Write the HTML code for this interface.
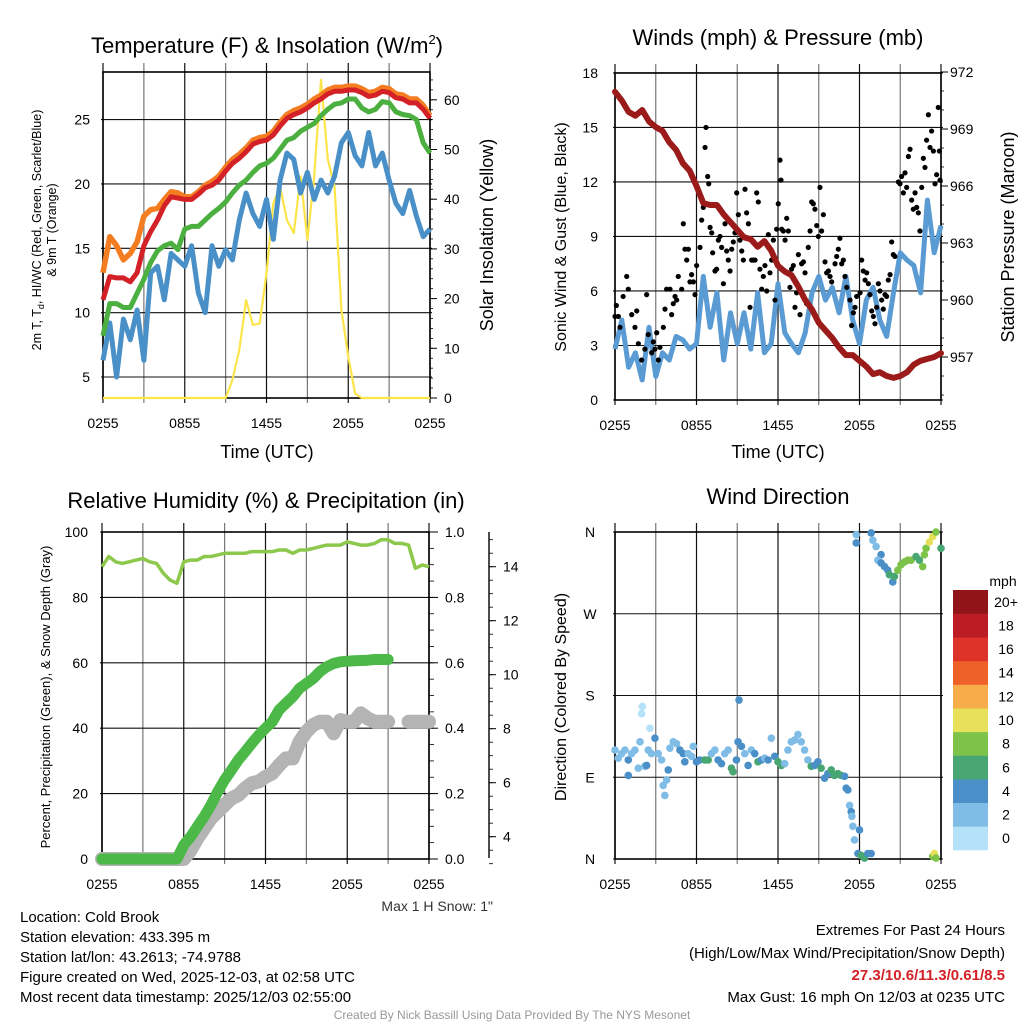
<!DOCTYPE html>
<html><head><meta charset="utf-8">
<style>
body{margin:0;background:#fff;}
svg{display:block;font-family:"Liberation Sans",Arial,sans-serif;}
</style></head>
<body>
<svg id="c" width="1024" height="1024" viewBox="0 0 1024 1024" xmlns="http://www.w3.org/2000/svg">
<rect width="1024" height="1024" fill="#fff"/>
<text x="267" y="53" font-size="22" text-anchor="middle">Temperature (F) &amp; Insolation (W/m<tspan font-size="13" dy="-9">2</tspan><tspan dy="9">)</tspan></text>
<text x="778" y="45" font-size="22" text-anchor="middle">Winds (mph) &amp; Pressure (mb)</text>
<text x="266" y="508" font-size="22" text-anchor="middle">Relative Humidity (%) &amp; Precipitation (in)</text>
<text x="778" y="504" font-size="22" text-anchor="middle">Wind Direction</text>
<text x="267" y="458" font-size="18" text-anchor="middle">Time (UTC)</text>
<text x="778" y="458" font-size="18" text-anchor="middle">Time (UTC)</text>
<text transform="translate(41,230) rotate(-90)" font-size="12.5" text-anchor="middle">2m T, T<tspan font-size="9" dy="3">d</tspan><tspan dy="-3">, HI/WC (Red, Green, Scarlet/Blue)</tspan></text>
<text transform="translate(56,230) rotate(-90)" font-size="12.5" text-anchor="middle">&amp; 9m T (Orange)</text>
<text transform="translate(493,235) rotate(-90)" font-size="18" text-anchor="middle">Solar Insolation (Yellow)</text>
<text transform="translate(566,237) rotate(-90)" font-size="16" text-anchor="middle">Sonic Wind &amp; Gust (Blue, Black)</text>
<text transform="translate(1014,237) rotate(-90)" font-size="18" text-anchor="middle">Station Pressure (Maroon)</text>
<text transform="translate(50,697) rotate(-90)" font-size="13" text-anchor="middle">Percent, Precipitation (Green), &amp; Snow Depth (Gray)</text>
<text transform="translate(566,697) rotate(-90)" font-size="16" text-anchor="middle">Direction (Colored By Speed)</text>
<text x="493" y="911" font-size="14" text-anchor="end" fill="#333">Max 1 H Snow: 1"</text>
<text x="1003" y="586" font-size="14" text-anchor="middle">mph</text>
<g font-size="15">
<text x="20" y="922">Location: Cold Brook</text>
<text x="20" y="942">Station elevation: 433.395 m</text>
<text x="20" y="962">Station lat/lon: 43.2613; -74.9788</text>
<text x="20" y="982">Figure created on Wed, 2025-12-03, at 02:58 UTC</text>
<text x="20" y="1002">Most recent data timestamp: 2025/12/03 02:55:00</text>
</g>
<g font-size="15" text-anchor="end">
<text x="1005" y="935">Extremes For Past 24 Hours</text>
<text x="1005" y="958">(High/Low/Max Wind/Precipitation/Snow Depth)</text>
<text x="1005" y="980" fill="#d42027" font-weight="bold">27.3/10.6/11.3/0.61/8.5</text>
<text x="1005" y="1002">Max Gust: 16 mph On 12/03 at 0235 UTC</text>
</g>
<text x="512" y="1019" font-size="12" fill="#999" text-anchor="middle">Created By Nick Bassill Using Data Provided By The NYS Mesonet</text>
<g id="layer"></g>
</svg>
<script>
const timeLabels = ["0255","0855","1455","2055","0255"];
const tempRed = [11.0,12.8,12.7,12.7,12.4,13.1,15.2,16.3,17.2,18.3,19.0,18.9,18.8,18.8,19.2,19.7,19.9,20.3,21.0,21.6,22.0,22.5,23.1,23.3,23.4,23.8,24.5,25.1,25.4,25.6,25.9,26.3,26.6,27.0,27.2,27.2,27.3,27.3,27.1,26.8,26.9,27.2,27.1,26.7,26.6,26.3,26.3,25.8,25.1];
const tempOrange = [13.1,15.9,15.2,14.1,14.6,15.5,17.5,18.0,18.1,18.8,19.4,19.3,19.0,19.0,19.4,19.9,20.2,20.6,21.3,21.9,22.3,22.8,23.4,23.6,23.7,24.1,24.8,25.4,25.7,25.9,26.2,26.6,26.9,27.3,27.5,27.5,27.6,27.6,27.4,27.1,27.2,27.5,27.4,27.0,26.9,26.6,26.6,26.1,25.3];
const tempGreen = [8.2,10.7,10.7,10.4,10.4,11.5,12.6,13.9,14.8,15.2,15.4,14.9,16.5,16.7,16.7,17.2,17.7,18.1,18.6,19.3,19.9,20.3,20.9,21.4,21.6,22.0,22.7,23.4,23.6,24.1,24.4,24.7,25.3,25.8,26.2,26.3,26.6,26.6,25.9,25.6,25.8,26.4,26.3,25.6,25.4,25.3,25.0,23.2,22.4];
const tempBlue = [6.3,9.2,5.0,9.5,7.9,10.2,6.3,13.1,13.6,11.0,14.6,14.1,13.6,15.2,11.5,10.0,15.2,13.6,14.9,14.1,17.2,19.3,17.7,16.7,18.8,15.7,20.3,22.4,21.9,19.3,20.9,18.8,20.3,19.3,20.6,23.2,24.0,22.2,21.4,24.0,21.4,22.4,20.3,18.5,17.7,19.5,17.5,15.9,16.5];
const insolation = [0,0,0,0,0,0,0,0,0,0,0,0,0,0,0,0,0,0,0,3.6,9.7,19.7,14.7,15.0,25.1,39.2,42.6,35.8,33.2,44.6,31.8,44.6,64.0,48.0,42.5,17.7,8.3,0.9,0,0,0,0,0,0,0,0,0,0,0];
const windSpeed = [2.8,4.4,1.8,2.6,1.1,4.0,1.3,2.6,2.2,3.5,3.3,2.8,3.1,6.8,4.0,5.9,2.2,4.8,3.1,4.8,2.8,5.9,2.6,3.1,6.4,3.7,3.1,2.6,3.7,5.9,6.8,5.5,6.2,4.8,6.8,4.4,3.1,5.5,6.2,4.4,3.5,5.9,8.1,7.7,7.4,5.9,11.0,8.1,9.6];
const pressure = [970.96,970.5,969.9,969.7,970.0,969.4,969.1,968.9,968.3,967.9,967.2,966.8,966.0,965.1,965.0,965.0,964.5,964.1,963.7,963.3,963.2,962.8,963.1,962.6,961.8,961.5,961.3,960.7,960.0,959.5,958.8,958.4,958.0,957.5,957.1,957.1,956.8,956.5,956.1,956.2,956.0,955.9,956.0,956.2,956.6,956.8,956.9,957.0,957.2];
const gustHour = [0,0.1,0.25,0.37,0.6,0.86,0.98,1.23,1.47,1.6,1.72,1.96,2.2,2.33,2.45,2.7,2.82,2.94,3.07,3.19,3.31,3.56,3.68,3.8,4.05,4.17,4.29,4.42,4.54,4.66,4.91,5.03,5.15,5.28,5.4,5.52,5.64,5.77,5.89,6.01,6.26,6.38,6.5,6.63,6.7,6.82,6.9,7.0,7.12,7.19,7.36,7.48,7.61,7.73,7.85,7.98,8.1,8.22,8.34,8.47,8.59,8.71,8.83,8.96,9.08,9.2,9.33,9.45,9.57,9.69,9.82,9.94,10.06,10.18,10.31,10.43,10.55,10.67,10.8,10.92,11.04,11.17,11.29,11.41,11.53,11.66,11.78,11.9,12.02,12.15,12.22,12.27,12.39,12.52,12.64,12.76,12.88,13.0,13.13,13.25,13.37,13.5,13.62,13.74,13.87,13.99,14.11,14.23,14.36,14.48,14.6,14.72,14.85,14.97,15.09,15.21,15.34,15.46,15.58,15.71,15.83,15.95,16.2,16.32,16.44,16.56,16.69,16.81,16.93,17.06,17.3,17.42,17.55,17.67,17.79,18.04,18.16,18.28,18.41,18.53,18.65,18.77,18.9,19.02,19.14,19.26,19.39,19.51,19.63,19.75,19.88,20.0,20.12,20.25,20.37,20.49,20.61,20.86,20.98,21.1,21.23,21.35,21.47,21.6,21.72,21.84,21.96,22.09,22.21,22.33,22.45,22.58,22.7,22.82,22.94,23.07,23.19,23.31,23.44,23.56,23.68,23.8,23.88,23.93];
const gustSpeed = [4.6,5.2,4.6,4.0,5.7,6.8,6.1,4.7,4.0,4.9,3.1,2.2,2.8,5.8,3.6,2.6,3.2,2.8,3.7,2.2,2.9,4.0,5.0,6.1,6.1,4.7,5.3,5.7,5.5,6.8,6.1,9.7,8.3,7.7,8.3,6.5,6.9,6.5,5.8,7.4,8.4,9.9,10.6,13.9,15.0,12.3,11.9,9.5,9.2,8.1,7.1,7.2,8.8,9.0,8.4,6.4,9.7,8.2,7.7,7.1,8.3,8.7,9.2,11.4,10.2,8.8,8.2,7.7,11.6,10.3,9.7,5.1,7.7,7.7,7.7,11.4,10.9,7.2,6.1,6.8,7.4,6.0,9.1,7.0,7.7,8.8,5.5,9.4,10.8,13.2,12.1,9.4,9.3,8.8,10.0,9.3,6.2,7.2,7.4,5.1,5.9,8.0,4.7,7.5,7.6,7.0,5.3,8.4,9.3,10.9,10.8,10.5,9.6,9.0,11.7,9.3,10.2,7.6,7.0,7.1,6.8,6.5,7.5,7.9,8.3,8.9,7.5,7.7,6.8,6.2,5.5,4.1,4.8,5.1,5.7,5.9,7.7,7.1,6.6,7.0,6.4,5.8,4.9,4.6,4.2,5.1,6.4,6.0,5.5,5.0,5.8,5.7,6.6,6.9,8.7,8.0,7.9,12.0,11.9,12.3,11.4,12.5,11.7,13.4,13.8,11.0,10.5,11.4,10.6,10.3,9.3,11.7,13.3,12.8,14.3,15.7,13.9,14.8,13.7,11.9,12.4,16.1,13.7,12.1];
const dirHour = [
 0,0.24,0.49,0.73,0.98,0.98,1.22,1.47,1.71,1.84,
 1.96,2.01,2.2,2.33,2.45,2.57,2.69,2.94,3.18,3.43,
 3.55,3.67,3.8,3.92,4.04,4.29,4.53,4.78,5.02,5.14,
 5.39,5.63,5.76,6.0,6.24,6.61,6.86,7.1,7.35,7.59,
 7.84,8.08,8.33,8.57,8.69,8.94,9.06,9.13,9.31,9.55,
 9.8,10.04,10.29,10.53,10.78,11.02,11.27,11.51,11.76,12.0,
 12.25,12.49,12.73,12.98,13.22,13.47,13.71,13.96,14.2,14.45,
 14.69,14.94,15.18,15.43,15.67,15.92,16.16,16.41,16.65,16.9,
 17.02,17.14,17.27,17.39,17.44,17.51,17.63,18.0,17.88,18.12,
 18.37,18.61,18.86,23.39,23.51,23.63,17.76,17.76,18.86,18.98,
 19.22,19.59,19.35,19.59,19.84,20.08,20.2,20.45,20.57,20.82,
 21.06,21.31,21.55,21.8,22.16,22.41,22.65,22.78,22.9,23.14,
 23.39,23.63,24.0];
const dirDeg = [
 120,111,116,120,109,92,116,120,100,129,
 160,168,102,103,120,144,116,133,116,109,
 81,70,87,98,122,129,127,120,116,107,
 116,113,124,107,109,109,109,116,120,109,
 105,116,120,100,96,109,129,175,124,116,
 103,120,116,107,109,111,109,133,113,107,
 103,105,120,129,131,137,129,120,109,102,
 103,107,100,89,94,98,92,94,92,91,
 78,76,59,52,47,36,21,32,6,4,
 1,6,6,3,6,1,357,348,359,351,
 344,335,329,326,322,318,313,305,311,318,
 324,327,329,329,333,329,322,335,342,349,
 355,360,342];
const dirSpeed = [
 3,3,3,3,5,5,3,3,3,3,
 1,1,3,5,3,1,3,5,3,3,
 3,3,3,5,3,3,3,5,5,5,
 3,3,3,5,5,7,7,3,3,5,
 5,3,3,7,7,5,5,5,5,3,
 5,3,5,7,5,3,5,3,5,7,
 7,3,3,3,3,3,3,3,3,7,
 5,5,7,5,5,7,7,7,7,5,
 5,5,3,5,3,3,3,5,5,7,
 7,5,5,9,11,9,3,5,5,3,
 3,5,3,5,5,5,7,5,7,9,
 9,9,9,9,7,7,9,9,9,11,
 11,9,7];
const rh = [89.4,92.5,90.9,90.4,90.9,91.4,91.9,90.9,90.4,87.4,85.3,84.3,90.9,91.4,91.4,92.5,92.5,93.0,93.5,93.5,93.5,93.5,94.0,94.0,94.0,94.0,94.5,94.5,93.5,94.5,94.5,95.0,95.5,96.0,96.0,96.0,97.0,96.5,96.0,96.0,96.5,97.6,97.6,96.5,96.5,96.0,88.9,89.9,89.4];
const precip = [0,0,0,0,0,0,0,0,0,0,0,0,0.043,0.068,0.099,0.13,0.165,0.206,0.242,0.272,0.303,0.328,0.354,0.379,0.40,0.42,0.456,0.476,0.496,0.522,0.537,0.552,0.573,0.588,0.598,0.603,0.605,0.606,0.607,0.608,0.61,0.61,0.61,null,null,null,null,null,null];
const snowDepth = [0,0,0,0,0,0,0,0,0,0,0,0,0,3.5,3.94,4.31,4.68,4.93,5.17,5.42,5.54,5.79,5.98,6.04,6.22,6.35,6.65,6.9,6.9,7.52,7.89,8.14,8.26,8.26,7.83,8.32,8.26,8.26,8.57,8.38,8.26,8.26,8.26,null,null,8.26,8.26,8.26,8.26];
const speedBins = ["0","2","4","6","8","10","12","14","16","18","20+"];
const speedColors = ["#b5e2f8","#7fbce6","#4a8fc7","#48a672","#7dc34a","#e6e05a","#f6ac48","#ee6129","#dd3328","#bc1c23","#911518"];

const NS="http://www.w3.org/2000/svg";
const layer=document.getElementById("layer");
function mk(tag,attrs,parent){const e=document.createElementNS(NS,tag);for(const k in attrs)e.setAttribute(k,attrs[k]);(parent||layer).appendChild(e);return e;}
function txt(x,y,s,size,anchor,parent){const t=mk("text",{x:x,y:y,"font-size":size,"text-anchor":anchor},parent);t.textContent=s;return t;}
function panel(L,R,T,B){return {L,R,T,B,x:h=>L+h/24*(R-L)};}
function linePath(p,vals,ys,clampLo,clampHi){let d="",pen=false;vals.forEach((v,i)=>{if(v===null){pen=false;return;}let y=ys(v);if(clampLo!==undefined)y=Math.min(Math.max(y,clampHi),clampLo);const x=p.x(i*0.5);d+=(pen?"L":"M")+x.toFixed(1)+","+y.toFixed(1);pen=true;});return d;}
function grid(p,ysList,name){const g=mk("g",{});
 for(let h=0;h<=24;h+=3){const x=p.x(h);mk("line",{x1:x,x2:x,y1:p.T-9,y2:p.B+5,stroke:(h%6==3)?"#777":"#111","stroke-width":1.2},g);}
 ysList.forEach(y=>mk("line",{x1:p.L-2,x2:p.R+2,y1:y,y2:y,stroke:"#111","stroke-width":1.1},g));
 mk("rect",{x:p.L,y:p.T,width:p.R-p.L,height:p.B-p.T,fill:"none",stroke:"#000","stroke-width":1.6},g);
 timeLabels.forEach((s,i)=>{txt(p.x(i*6),p.B+30,s,14,"middle",g);});
 return g;}

// Panel 1
const p1=panel(103,430,72,398);
const yT=v=>377-(v-5)*12.87, yI=v=>398-v*4.97;
const g1=grid(p1,[5,10,15,20,25].map(yT),"temperature-grid");
[5,10,15,20,25].forEach(v=>txt(90,yT(v)+5,String(v),14,"end",g1));
[0,10,20,30,40,50,60].forEach(v=>{txt(444,yI(v)+5,String(v),14,"start",g1);mk("line",{x1:430,x2:437,y1:yI(v),y2:yI(v),stroke:"#000"},g1);});
for(let v=0;v<=64;v+=2){mk("line",{x1:430,x2:433,y1:yI(v),y2:yI(v),stroke:"#000","stroke-width":0.8},g1);}
let e;
e=mk("path",{d:linePath(p1,insolation,yI),fill:"none",stroke:"#fce44a","stroke-width":2.2,"stroke-linejoin":"round"});

e=mk("path",{d:linePath(p1,tempBlue,yT),fill:"none",stroke:"#4a90c8","stroke-width":5,"stroke-linejoin":"round"});

e=mk("path",{d:linePath(p1,tempGreen,yT),fill:"none",stroke:"#4bb03f","stroke-width":5,"stroke-linejoin":"round"});

e=mk("path",{d:linePath(p1,tempOrange,yT),fill:"none",stroke:"#f47d22","stroke-width":5.5,"stroke-linejoin":"round"});

e=mk("path",{d:linePath(p1,tempRed,yT),fill:"none",stroke:"#d42027","stroke-width":5,"stroke-linejoin":"round"});


// Panel 2
const p2=panel(615,941,73,400);
const yW=v=>400-v*18.17, yP=v=>357-(v-957)*19;
const g2=grid(p2,[0,3,6,9,12,15,18].map(yW),"wind-grid");
[0,3,6,9,12,15,18].forEach(v=>txt(598,yW(v)+5,String(v),14,"end",g2));
[957,960,963,966,969,972].forEach(v=>{txt(950,yP(v)+5,String(v),14,"start",g2);mk("line",{x1:941,x2:948,y1:yP(v),y2:yP(v),stroke:"#000"},g2);});
for(let v=955;v<=972;v++){mk("line",{x1:941,x2:944,y1:yP(v),y2:yP(v),stroke:"#000","stroke-width":0.8},g2);}
e=mk("path",{d:linePath(p2,windSpeed,yW),fill:"none",stroke:"#5a9bd4","stroke-width":5,"stroke-linejoin":"round"});

const gg=mk("g",{});
gustHour.forEach((h,i)=>{const c=mk("circle",{cx:p2.x(h),cy:yW(gustSpeed[i]),r:2.6,fill:"#000"},gg);

});
e=mk("path",{d:linePath(p2,pressure,yP),fill:"none",stroke:"#9b1b1b","stroke-width":6,"stroke-linejoin":"round","stroke-linecap":"round"});


// Panel 3
const p3=panel(102,429,532,859);
const yR=v=>859-v*3.27, yPr=v=>859-v*327, yS=v=>836.7-(v-4)*27;
const g3=grid(p3,[0,20,40,60,80,100].map(yR),"humidity-grid");
[0,20,40,60,80,100].forEach(v=>txt(88,yR(v)+5,String(v),14,"end",g3));
[0,0.2,0.4,0.6,0.8,1.0].forEach(v=>{txt(445,yPr(v)+5,v.toFixed(1),14,"start",g3);mk("line",{x1:429,x2:438,y1:yPr(v),y2:yPr(v),stroke:"#000"},g3);});
for(let v=0;v<=1.0001;v+=0.05){mk("line",{x1:429,x2:434,y1:yPr(v),y2:yPr(v),stroke:"#000","stroke-width":0.8},g3);}
const gs=mk("g",{});
mk("line",{x1:489,x2:489,y1:532,y2:858,stroke:"#000","stroke-width":1.4},gs);
[4,6,8,10,12,14].forEach(v=>{mk("line",{x1:489,x2:496,y1:yS(v),y2:yS(v),stroke:"#000"},gs);txt(503,yS(v)+5,String(v),14,"start",gs);});
for(let v=3;v<=15;v+=0.5){mk("line",{x1:489,x2:493,y1:yS(v),y2:yS(v),stroke:"#000","stroke-width":0.8},gs);}
e=mk("path",{d:linePath(p3,snowDepth,yS,859,532),fill:"none",stroke:"#b4b4b4","stroke-width":14,"stroke-linejoin":"round","stroke-linecap":"round"});

e=mk("path",{d:linePath(p3,precip,yPr),fill:"none",stroke:"#4bb848","stroke-width":11,"stroke-linejoin":"round","stroke-linecap":"round"});

e=mk("path",{d:linePath(p3,rh,yR),fill:"none",stroke:"#8cc84b","stroke-width":3.5,"stroke-linejoin":"round"});


// Panel 4
const p4=panel(615,941,532,859);
const yD=v=>859-v*0.9083;
const g4=grid(p4,[0,90,180,270,360].map(yD),"direction-grid");
[["N",0],["E",90],["S",180],["W",270],["N",360]].forEach(a=>txt(590,yD(a[1])+5,a[0],14,"middle",g4));
const gd=mk("g",{});
const nDir=Math.min(dirHour.length,dirDeg.length,dirSpeed.length);
for(let i=0;i<nDir;i++){const bin=Math.min(10,Math.floor(dirSpeed[i]/2));
const c=mk("circle",{cx:p4.x(dirHour[i]),cy:yD(dirDeg[i]),r:3.8,fill:speedColors[bin]},gd);

}
const cb=mk("g",{});
const binH=260/11;
speedBins.forEach((s,i)=>{const y=850-(i+1)*binH;mk("rect",{x:953,y:y,width:35,height:binH+0.3,fill:speedColors[i]},cb);txt(1006,y+binH/2+5,s,14,"middle",cb);});
</script>
</body></html>
